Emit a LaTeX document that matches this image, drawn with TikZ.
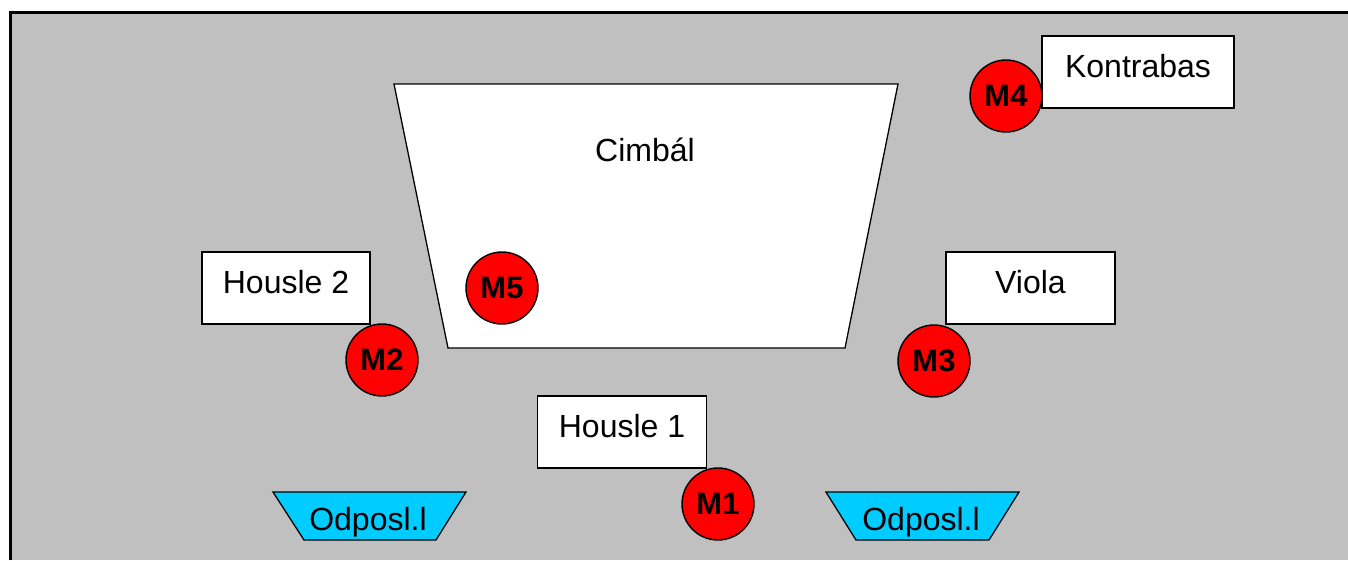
\documentclass[tikz,border=0pt]{standalone}
\usepackage{fontspec}
\setmainfont{Liberation Sans}
\definecolor{bggray}{HTML}{C0C0C0}
\definecolor{micred}{HTML}{FF0000}
\definecolor{monblue}{HTML}{00CCFF}
\begin{document}
\begin{tikzpicture}[x=1pt,y=-1pt,
  lbl/.style={font=\fontsize{32}{32}\selectfont},
  box/.style={draw=black, fill=white, line width=1.3pt, minimum height=72pt,
    text height=23pt, text depth=13pt, inner sep=0pt, lbl},
  mic/.style={circle, draw=black, fill=micred, line width=1.4pt, minimum size=72pt,
    inner sep=0pt, font=\bfseries\fontsize{31}{31}\selectfont},
  shapeline/.style={draw=black, line width=1.3pt}]
\useasboundingbox (0,0) rectangle (1348,560);
% stage frame
\fill[bggray] (10.5,12.5) rectangle (1348,560);
\draw[line width=3.6pt] (10.5,560) -- (10.5,12.5) -- (1348,12.5);
% cimbal
\path[shapeline, fill=white] (394,84) -- (898,84) -- (845,348) -- (448,348) -- cycle;
\node[lbl, anchor=base] (cimbal) at (645,161) {Cimbál};
% instrument boxes
\node[box, minimum width=192pt] (kontrabas) at (1138,72) {Kontrabas};
\node[box, minimum width=168pt] (housle2) at (286,288) {Housle 2};
\node[box, minimum width=169pt] (viola) at (1030.5,288) {Viola};
\node[box, minimum width=169pt] (housle1) at (622,432) {Housle 1};
% monitors
\path[shapeline, fill=monblue] (273,492) -- (466,492) -- (436,540) -- (304,540) -- cycle;
\node[lbl, anchor=base] (odp1) at (368,530) {Odposl.l};
\path[shapeline, fill=monblue] (826,492) -- (1019,492) -- (989,540) -- (856,540) -- cycle;
\node[lbl, anchor=base] (odp2) at (921,530) {Odposl.l};
% microphones
\node[mic] (m4) at (1006,96) {M4};
\node[mic] (m5) at (502,288) {M5};
\node[mic] (m2) at (382,360) {M2};
\node[mic] (m3) at (934,361) {M3};
\node[mic] (m1) at (718,504) {M1};
\end{tikzpicture}
\end{document}
